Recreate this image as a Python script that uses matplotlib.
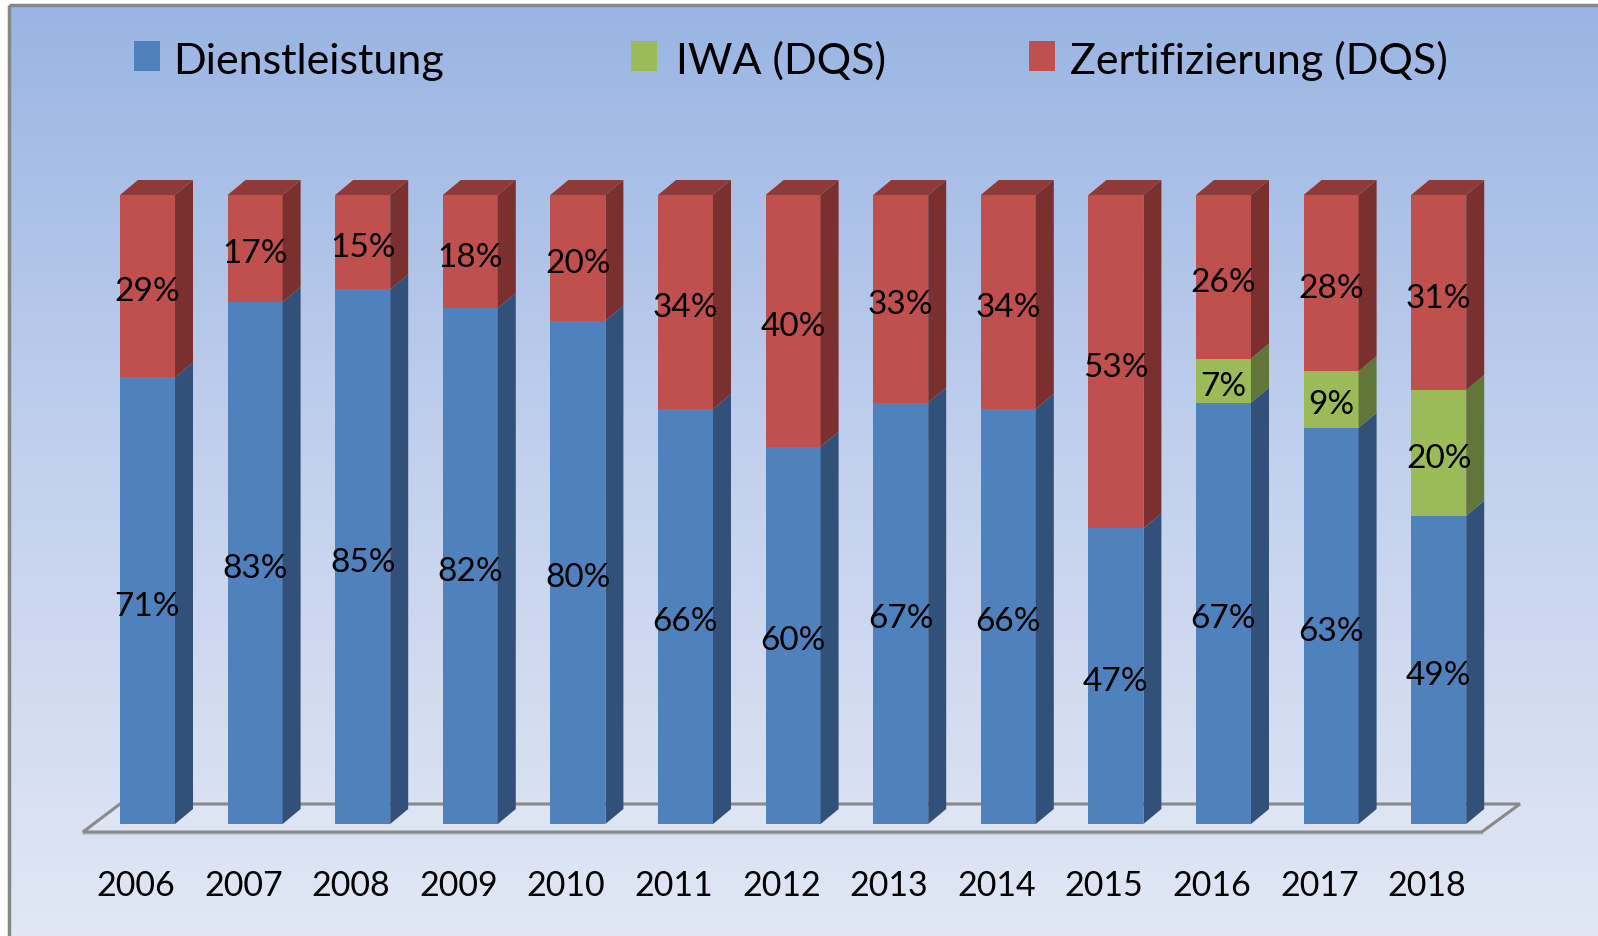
import numpy as np
import matplotlib
matplotlib.use("Agg")
import matplotlib.pyplot as plt
from matplotlib.patches import Polygon, Rectangle
from matplotlib.colors import LinearSegmentedColormap

years = ["2006", "2007", "2008", "2009", "2010", "2011", "2012",
         "2013", "2014", "2015", "2016", "2017", "2018"]
dienstleistung = [71, 83, 85, 82, 80, 66, 60, 67, 66, 47, 67, 63, 49]
iwa = [0, 0, 0, 0, 0, 0, 0, 0, 0, 0, 7, 9, 20]
zertifizierung = [29, 17, 15, 18, 20, 34, 40, 33, 34, 53, 26, 28, 31]
series_names = ["Dienstleistung", "IWA (DQS)", "Zertifizierung (DQS)"]

FRONT = ["#4F81BD", "#9BBB59", "#C0504D"]
SIDE = ["#32517A", "#62763A", "#7A302E"]
TOP = ["#3B5E8C", "#71873F", "#8E3A38"]

plt.rcParams['font.family'] = ['Lato', 'DejaVu Sans']

W_PX, H_PX = 1598, 937
fig = plt.figure(figsize=(W_PX / 100, H_PX / 100), dpi=100)

# background panel (pixel coordinates, y down)
bg = fig.add_axes([0, 0, 1, 1], zorder=0)
bg.set_xlim(0, W_PX)
bg.set_ylim(H_PX, 0)
bg.axis('off')
cmap = LinearSegmentedColormap.from_list("bg", ["#9AB5E3", "#C3D1EE", "#E1E7F4"])
grad = np.linspace(0, 1, 256).reshape(-1, 1)
bg.imshow(grad, cmap=cmap, aspect='auto', extent=(9, W_PX, H_PX, 6), interpolation='bilinear')
bg.plot([9, 9], [H_PX, 6], color="#878787", lw=2.5, solid_capstyle='butt')
bg.plot([9, W_PX], [6, 6], color="#878787", lw=2.5, solid_capstyle='butt')

# main axes: x in category units, y in percent
PITCH, X0, Y0PX, PXPER = 107.6, 147.5, 825.0, 6.29
ax = fig.add_axes([0, 0, 1, 1], zorder=1)
ax.set_facecolor('none')
ax.set_xlim(-X0 / PITCH, (W_PX - X0) / PITCH)
ax.set_ylim(-(H_PX - Y0PX) / PXPER, Y0PX / PXPER)
ax.axis('off')

W = 55 / PITCH
DX = 18 / PITCH
DY = 15 / PXPER
LABEL_SHIFT = -0.8

x = np.arange(len(years))
d = np.array(dienstleistung)
g = np.array(iwa)
r = np.array(zertifizierung)

# floor
floor = Polygon([(-0.60, -1.27), (12.40, -1.27), (12.755, 3.18), (-0.256, 3.18)],
                closed=True, facecolor=(1, 1, 1, 0.12), edgecolor="#8A8A8A", lw=2.2, zorder=1)
ax.add_patch(floor)
ax.plot([-0.60, 12.40], [-1.27 - 0.35, -1.27 - 0.35], color="#C2C8D6", lw=1.5, zorder=0.9)

bottoms = [np.zeros_like(d), d, d + g]
vals = [d, g, r]
for k in range(3):
    ax.bar(x, vals[k], bottom=bottoms[k], width=W, color=FRONT[k], zorder=3,
           label=series_names[k])
    for i in x:
        h = vals[k][i]
        if h <= 0:
            continue
        b = bottoms[k][i]
        xr = i + W / 2
        ax.add_patch(Polygon([(xr, b), (xr + DX, b + DY), (xr + DX, b + h + DY), (xr, b + h)],
                             closed=True, facecolor=SIDE[k], edgecolor='none', zorder=3))
        if k == 2:
            xl = i - W / 2
            ax.add_patch(Polygon([(xl, b + h), (xl + DX, b + h + DY), (xr + DX, b + h + DY), (xr, b + h)],
                                 closed=True, facecolor=TOP[k], edgecolor='none', zorder=3))
        ax.text(i, b + h / 2 + LABEL_SHIFT, f"{h}%", ha='center', va='center', fontsize=24,
                color='black', zorder=5)

# category labels
for i, yl in enumerate(years):
    ax.text(i - 0.11, -9.7, yl, ha='center', va='center', fontsize=24.5, color='black')

# legend
leg_sq = [134, 631, 1029]
leg_tx = [173, 676, 1070]
for k in range(3):
    fig.patches.append(Rectangle((leg_sq[k] / W_PX, 1 - 72 / H_PX), 26 / W_PX, 30 / H_PX,
                                 transform=fig.transFigure, facecolor=FRONT[k],
                                 edgecolor='none', zorder=3))
    fig.text(leg_tx[k] / W_PX, 1 - 74 / H_PX, series_names[k], fontsize=31,
             ha='left', va='baseline', color='black', zorder=3)

fig.savefig("out.png", dpi=100)
